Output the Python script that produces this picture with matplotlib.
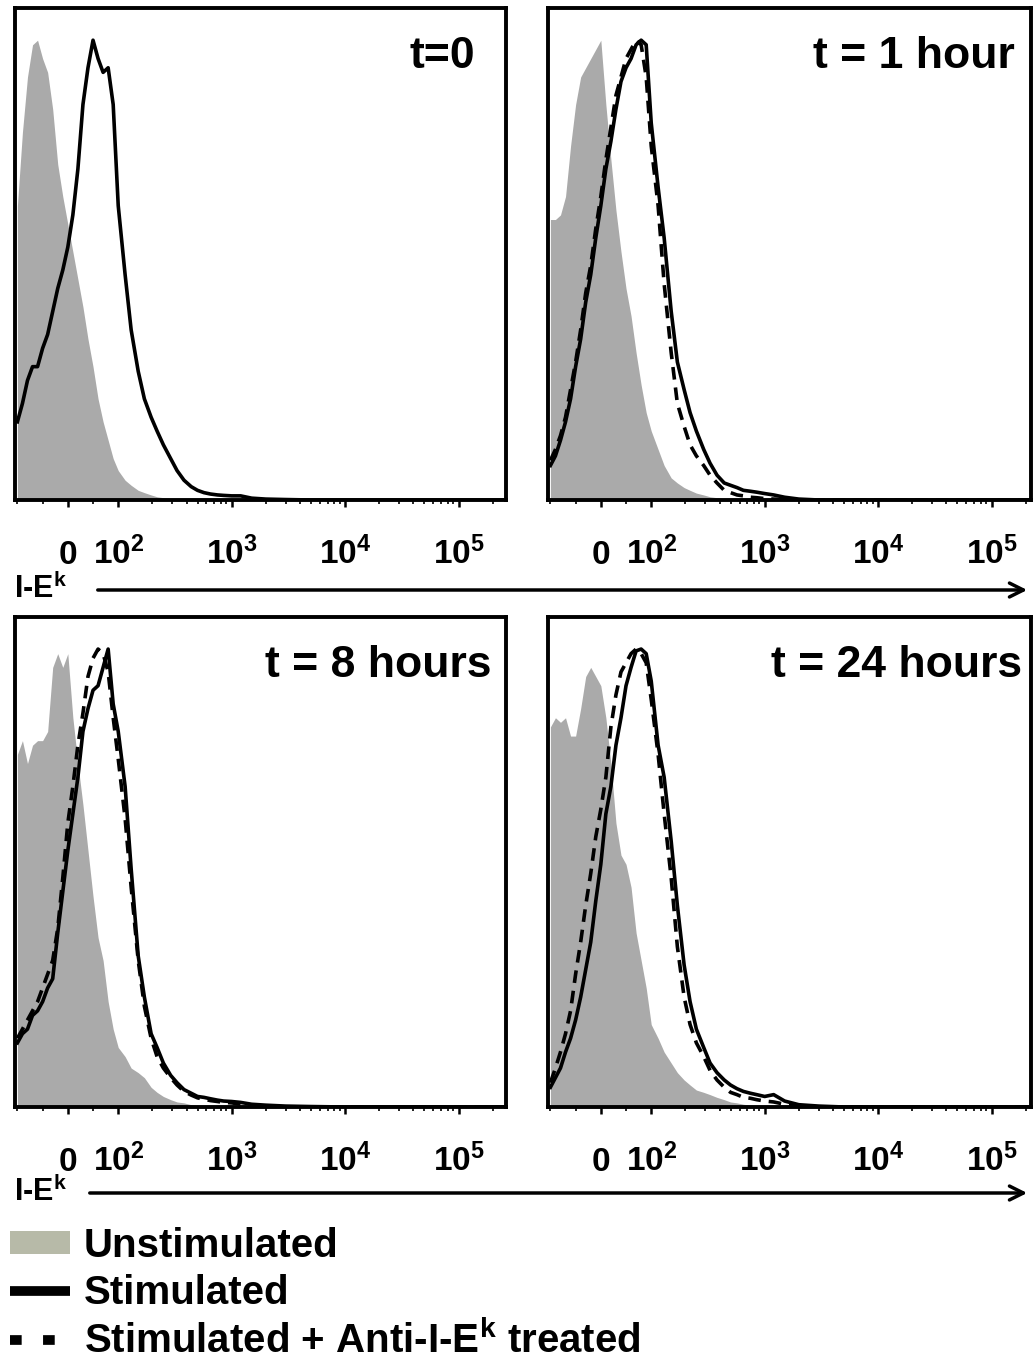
import matplotlib
matplotlib.use('Agg')
import matplotlib.pyplot as plt
from matplotlib.patches import Patch, FancyArrowPatch
from matplotlib.lines import Line2D
from matplotlib.ticker import FixedLocator, NullFormatter

plt.rcParams['font.family'] = ['Liberation Sans', 'DejaVu Sans']
plt.rcParams['font.weight'] = 'bold'
plt.rcParams['mathtext.fontset'] = 'custom'
plt.rcParams['mathtext.rm'] = 'Liberation Sans:bold'
plt.rcParams['mathtext.it'] = 'Liberation Sans:bold'
plt.rcParams['mathtext.bf'] = 'Liberation Sans:bold'

# I-E^k fluorescence (channel), shared x for every histogram
ie_k = [-100, -90, -80, -70, -60, -50, -40, -30, -20, -10, 0, 10, 20, 30, 40, 50, 60, 70, 80, 90, 100,
        115, 130, 150, 170, 195, 220, 250, 290, 330, 380,
        440, 500, 570, 650, 750, 850, 1000, 1200, 1500, 2000,
        3000, 5000, 10000, 262144]

# % of max
unstim_0h = [64, 80, 92, 99, 100, 96, 93, 85, 73, 66, 60, 54, 48, 42, 35, 29, 22, 17, 13, 9, 6.4,
             4.3, 3.2, 2.1, 1.6, 1.1, 0.7, 0.5, 0.3, 0.2, 0.1,
             0, 0, 0, 0, 0, 0, 0, 0, 0, 0,
             0, 0, 0, 0]
stim_0h = [17, 21, 26, 29, 29, 33, 36, 41, 46, 50, 55, 62, 72, 86, 94, 100, 96, 93, 94, 86, 64,
           49, 37, 28, 22, 18, 15, 12, 9, 6.4, 4.3,
           2.9, 2.1, 1.6, 1.3, 1.1, 1.0, 0.9, 0.9, 0.4, 0.2,
           0.1, 0, 0, 0]

unstim_1h = [61, 61, 62, 66, 77, 86, 92, 94, 96, 98, 100, 86, 74, 63, 54, 46, 40, 32, 25, 19, 15,
             11, 7.5, 4.8, 3.7, 2.7, 2.1, 1.5, 1.1, 0.7, 0.5,
             0.3, 0.2, 0, 0, 0, 0, 0, 0, 0, 0,
             0, 0, 0, 0]
stim_1h = [7.5, 9.6, 13, 17, 22, 29, 35, 43, 49, 57, 64, 72, 78, 85, 91, 94, 96, 99, 100, 99, 82,
           68, 57, 41, 30, 24, 19, 15, 11, 8, 5.4,
           3.7, 3.2, 2.7, 2.1, 1.9, 1.7, 1.4, 1.1, 0.6, 0.2,
           0, 0, 0, 0]
anti_1h = [8.6, 11, 14, 18, 24, 30, 37, 45, 51, 59, 66, 74, 81, 88, 92, 96, 98, 100, 99, 92, 77,
           64, 47, 32, 21, 16, 12, 9.6, 7.5, 5.4, 3.7,
           2.1, 1.6, 1.1, 0.9, 0.6, 0.5, 0.3, 0.2, 0.1, 0,
           0, 0, 0, 0]

unstim_8h = [77, 80, 75, 79, 80, 80, 82, 96, 99, 96, 99, 85, 75, 66, 56, 46, 37, 32, 23, 17, 13,
             11, 8.5, 7.5, 6.4, 4.3, 3.2, 2.3, 1.6, 1.1, 0.9,
             0.5, 0.3, 0.2, 0, 0, 0, 0, 0, 0, 0,
             0, 0, 0, 0]
stim_8h = [14, 16, 17, 20, 21, 23, 26, 28, 38, 47, 56, 64, 72, 82, 87, 91, 92, 96, 100, 88, 82,
           70, 52, 33, 24, 16, 13, 9.6, 6.9, 5.3, 3.8,
           3, 2.3, 2.1, 1.8, 1.5, 1.3, 1.2, 1, 0.6, 0.4,
           0.2, 0.1, 0, 0]
anti_8h = [15, 17, 19, 21, 23, 26, 29, 32, 39, 50, 62, 70, 79, 86, 94, 98, 100, 99, 95, 85, 76,
           63, 48, 32, 22, 15, 11, 8.5, 6.4, 4.8, 3.4,
           2.6, 2, 1.7, 1.4, 1.2, 1, 0.9, 0.6, 0.4, 0.2,
           0, 0, 0, 0]

unstim_24h = [83, 85, 84, 85, 81, 81, 87, 94, 96, 94, 92, 85, 75, 62, 55, 53, 48, 38, 32, 26, 18,
              15, 12, 9.6, 7.5, 5.9, 4.8, 3.7, 3.2, 2.7, 2.1,
              1.6, 1.1, 0.9, 0.6, 0.4, 0.3, 0.2, 0, 0, 0,
              0, 0, 0, 0]
stim_24h = [4.3, 6.4, 8.5, 12, 15, 19, 24, 30, 36, 45, 53, 64, 70, 79, 85, 92, 96, 99.6, 100, 99, 93,
            79, 72, 58, 44, 31, 23, 17, 13, 9.6, 7.5,
            5.9, 4.8, 4, 3.4, 3, 2.7, 2.3, 2.7, 1.3, 0.5,
            0.2, 0, 0, 0]
anti_24h = [5.3, 8.5, 12, 16, 21, 29, 36, 44, 51, 59, 65, 72, 83, 90, 95, 97, 99, 100, 99, 97, 89,
            77, 64, 50, 35, 24, 18, 14, 11, 8, 5.9,
            4.3, 3.2, 2.7, 2.1, 1.9, 1.6, 1.3, 1.1, 0.6, 0.3,
            0, 0, 0, 0]

titles = ['t=0', 't = 1 hour', 't = 8 hours', 't = 24 hours']
unstim = [unstim_0h, unstim_1h, unstim_8h, unstim_24h]
stim = [stim_0h, stim_1h, stim_8h, stim_24h]
anti = [None, anti_1h, anti_8h, anti_24h]

major_ticks = [0, 100, 1000, 10000, 100000]
major_labels = [r'$0$', r'$10^2$', r'$10^3$', r'$10^4$', r'$10^5$']
minor_ticks = [-100, -50, 50] + [m * 10 ** e for e in (2, 3, 4, 5) for m in range(2, 10)]

W, H = 1033, 1359
fig = plt.figure(figsize=(W / 100, H / 100), dpi=100)

# left, right, top, bottom (px), right x-limit
boxes = [(15, 506, 8, 500, 262144), (548, 1031, 8, 500, 222800),
         (15, 506, 617, 1107, 262144), (548, 1031, 617, 1107, 222800)]
title_x = [0.937, 0.967, 0.971, 0.981]

for i, (l, r, t, b, xmax) in enumerate(boxes):
    ax = fig.add_axes([l / W, 1 - b / H, (r - l) / W, (b - t) / H])
    ax.set_xscale('symlog', linthresh=100, linscale=0.4)
    ax.fill_between(ie_k, 0, unstim[i], color='#aaaaaa', lw=0, zorder=1)
    if anti[i] is not None:
        ax.plot(ie_k, anti[i], color='black', lw=2.6, dashes=(3.5, 2.2), zorder=3)
    ax.plot(ie_k, stim[i], color='black', lw=2.6, zorder=4)
    ax.set_xlim(-105, xmax)
    ax.set_ylim(0, 107)
    ax.set_yticks([])
    ax.xaxis.set_major_locator(FixedLocator(major_ticks))
    ax.xaxis.set_minor_locator(FixedLocator(minor_ticks))
    ax.xaxis.set_minor_formatter(NullFormatter())
    ax.set_xticklabels(major_labels, va='baseline', fontsize=24)
    ax.tick_params(axis='x', which='major', length=5, width=1.8, pad=41)
    ax.tick_params(axis='x', which='minor', length=3, width=1.2)
    for s in ax.spines.values():
        s.set_linewidth(2.8)
    ax.text(title_x[i], 0.878, titles[i], transform=ax.transAxes, ha='right', va='baseline',
            fontsize=32, fontweight='bold')

# axis labels with arrows
for ylab, yarr, x0 in [(598, 590, 95), (1201, 1193, 87)]:
    fig.text(14 / W, 1 - ylab / H, r'I-E$^{k}$', fontsize=22, fontweight='bold', va='baseline')
    fig.add_artist(FancyArrowPatch((x0 / W, 1 - yarr / H), (1030 / W, 1 - yarr / H),
                                   transform=fig.transFigure, arrowstyle='->',
                                   mutation_scale=25, lw=2.5, color='black'))

handles = [Patch(facecolor='#b7baa8', edgecolor='none'),
           Line2D([], [], color='black', lw=7, solid_capstyle='butt'),
           Line2D([], [], color='black', lw=7, linestyle=(0, (1.2, 2.2)), dash_capstyle='butt')]
labels = ['Unstimulated', 'Stimulated', r'Stimulated + Anti-I-E$^{k}$ treated']
fig.legend(handles, labels, loc='upper left', bbox_to_anchor=(10 / W, 1 - 1227 / H),
           frameon=False, fontsize=29, handlelength=1.5, handleheight=0.5,
           handletextpad=0.33, labelspacing=0.22, borderpad=0, borderaxespad=0)

fig.savefig('out.png', dpi=100)
